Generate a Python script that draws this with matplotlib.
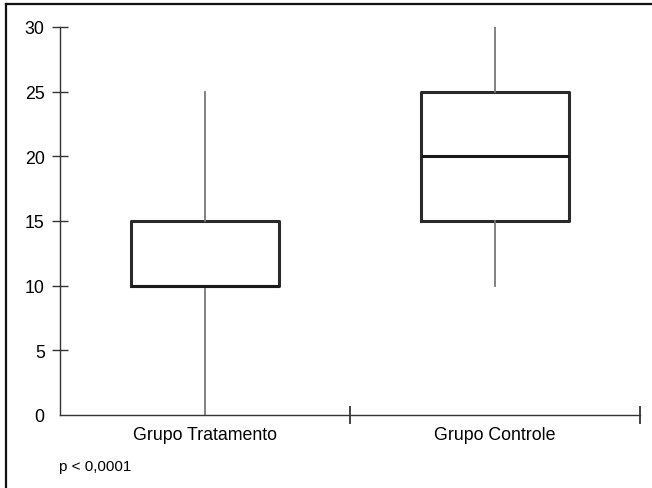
import matplotlib
matplotlib.use("Agg")
import matplotlib.pyplot as plt
from matplotlib.lines import Line2D

plt.rcParams['font.family'] = ['Liberation Sans', 'DejaVu Sans']

groups = ["Grupo Tratamento", "Grupo Controle"]
whis_low = [0, 10]
q1 = [10, 15]
medians = [10, 20]
q3 = [15, 25]
whis_high = [25, 30]
y_ticks = [0, 5, 10, 15, 20, 25, 30]
p_text = "p < 0,0001"

fig = plt.figure(figsize=(6.52, 4.89), dpi=100)
ax = fig.add_axes([60/652, 1-416/489, 580/652, 388/489])

stats = []
for i, g in enumerate(groups):
    stats.append(dict(label=g, whislo=whis_low[i], q1=q1[i], med=medians[i],
                      q3=q3[i], whishi=whis_high[i], fliers=[]))

ax.bxp(stats, positions=[0.5, 1.5], widths=0.507, showfliers=False, showcaps=False,
       boxprops=dict(color='#2a2a2a', linewidth=2.2),
       medianprops=dict(color='#1a1a1a', linewidth=2.2),
       whiskerprops=dict(color='#777777', linewidth=1.3),
       manage_ticks=False)

ax.set_xlim(0, 2)
ax.set_ylim(0, 30)
for s in ['top', 'right']:
    ax.spines[s].set_visible(False)
for s in ['left', 'bottom']:
    ax.spines[s].set_color('#333333')
    ax.spines[s].set_linewidth(1.0)

ax.set_yticks(y_ticks)
ax.set_yticklabels([str(v) for v in y_ticks])
ax.tick_params(axis='y', direction='inout', length=12, width=1.0, color='#333333',
               pad=5, labelsize=12.8)
ax.yaxis.get_major_ticks()[0].tick1line.set_visible(False)

ax.set_xticks([1, 2])
ax.set_xticklabels(['', ''])
ax.tick_params(axis='x', which='major', direction='inout', length=13, width=1.2, color='#222222')
ax.set_xticks([0.5, 1.5], minor=True)
ax.set_xticklabels(groups, minor=True)
ax.tick_params(axis='x', which='minor', length=0, pad=8, labelsize=12.8)

fig.text(59/652, 1-471/489, p_text, fontsize=11, ha='left', va='baseline')

# figure border (top and left visible)
fig.add_artist(Line2D([5.5/652, 5.5/652], [0, 1-5/489], transform=fig.transFigure,
                      color='#111111', linewidth=1.6))
fig.add_artist(Line2D([5.5/652, 1], [1-5/489, 1-5/489], transform=fig.transFigure,
                      color='#111111', linewidth=1.6))

fig.savefig("out.png", dpi=100)
